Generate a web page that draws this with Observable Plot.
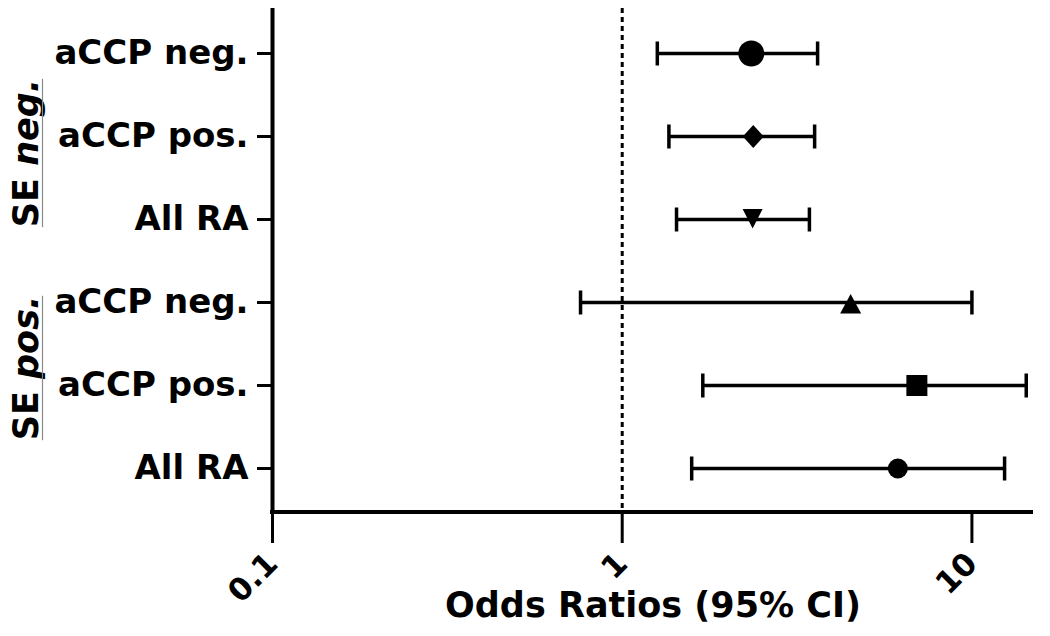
<!DOCTYPE html>
<html>
<head>
<meta charset="utf-8">
<script src="https://cdn.jsdelivr.net/npm/d3@7"></script>
<script src="https://cdn.jsdelivr.net/npm/@observablehq/plot@0.6"></script>
<style>
  body { margin: 0; background: #fff; }
  svg { display: block; }
</style>
</head>
<body>
<div id="chart"></div>
<script>
// ---- data ----
const groups = ["SE neg.", "SE neg.", "SE neg.", "SE pos.", "SE pos.", "SE pos."];
const subgroups = ["aCCP neg.", "aCCP pos.", "All RA", "aCCP neg.", "aCCP pos.", "All RA"];
const oddsRatio = [2.34, 2.37, 2.36, 4.50, 6.96, 6.14];
const ciLower = [1.26, 1.36, 1.43, 0.76, 1.70, 1.58];
const ciUpper = [3.62, 3.55, 3.43, 10.0, 14.3, 12.4];
const xTicks = [0.1, 1, 10];
const xTickLabels = ["0.1", "1", "10"];
const xTitle = "Odds Ratios (95% CI)";

const rows = subgroups.map((s, i) => ({
  key: i, group: groups[i], sub: s, or: oddsRatio[i], lo: ciLower[i], hi: ciUpper[i]
}));

// ---- styles ----
const FONT = "DejaVu Sans";
const triangleDown = {draw(ctx, size) {
  const r = Math.sqrt(size / Math.PI);
  ctx.moveTo(-r, -1.05 * r); ctx.lineTo(r, -1.05 * r); ctx.lineTo(0, 0.9 * r); ctx.closePath();
}};
const triangleUp = {draw(ctx, size) {
  const r = Math.sqrt(size / Math.PI);
  ctx.moveTo(0, -0.8 * r); ctx.lineTo(r, 1.05 * r); ctx.lineTo(-r, 1.05 * r); ctx.closePath();
}};
const diamond = {draw(ctx, size) {
  const r = Math.sqrt(size / Math.PI);
  ctx.moveTo(0, -1.1 * r); ctx.lineTo(r, 0); ctx.lineTo(0, 1.1 * r); ctx.lineTo(-r, 0); ctx.closePath();
}};
const capBar = {draw(ctx, size) {
  const r = Math.sqrt(size / Math.PI);
  ctx.moveTo(0, -r); ctx.lineTo(0, r);
}};
const markerSymbol = ["circle", diamond, triangleDown, triangleUp, "square", "circle"];
const markerR = [13, 10.5, 10, 10.5, 11.85, 10];

const measureCtx = document.createElement("canvas").getContext("2d");
function textWidth(str, style) {
  measureCtx.font = `${style} bold 35px "${FONT}"`;
  return measureCtx.measureText(str).width;
}

const groupLabelMark = (index, scales, values, dims) => {
  const g = d3.create("svg:g")
    .attr("font-family", FONT).attr("font-weight", "bold").attr("font-size", 35).attr("fill", "black");
  const center = (dims.marginTop + dims.height - dims.marginBottom) / 2;
  const uniq = Array.from(new Set(groups));
  for (const grp of uniq) {
    const ys = rows.filter(r => r.group === grp).map(r => scales.y(r.key));
    const mid = d3.mean(ys);
    const y = mid + Math.sign(center - mid) * 17;
    const [a, ...rest] = grp.split(" ");
    const b = " " + rest.join(" ");
    const len = textWidth(a, "normal") + textWidth(b, "italic");
    const t = g.append("text")
      .attr("transform", `translate(38,${y}) rotate(-90)`)
      .attr("text-anchor", "middle");
    t.append("tspan").text(a);
    t.append("tspan").attr("font-style", "italic").text(b);
    g.append("line")
      .attr("x1", 42.5).attr("x2", 42.5)
      .attr("y1", y - len / 2).attr("y2", y + len / 2)
      .attr("stroke", "#8a8a8a").attr("stroke-width", 1.2);
  }
  return g.node();
};

const bottomLine = (index, scales, values, dims) => {
  return d3.create("svg:line")
    .attr("x1", dims.marginLeft - 2).attr("x2", dims.width - dims.marginRight)
    .attr("y1", dims.height - dims.marginBottom).attr("y2", dims.height - dims.marginBottom)
    .attr("stroke", "black").attr("stroke-width", 4).node();
};

const chart = Plot.plot({
  width: 1050,
  height: 636,
  marginLeft: 272,
  marginRight: 17,
  marginTop: 8,
  marginBottom: 124,
  style: {fontFamily: FONT, color: "black", background: "white", overflow: "visible"},
  x: {type: "log", domain: [0.1, 15]},
  y: {type: "point", domain: d3.range(rows.length), padding: 0.52},
  marks: [
    Plot.ruleX([1], {stroke: "black", strokeWidth: 3, strokeDasharray: "5,4"}),
    Plot.ruleX([0.1], {stroke: "black", strokeWidth: 4}),
    bottomLine,
    Plot.axisX({
      ticks: xTicks, tickFormat: (d) => xTickLabels[xTicks.indexOf(d)], tickSize: 31, tickPadding: 15,
      tickRotate: -45, strokeWidth: 3, fontSize: 31, fontWeight: "bold", label: null
    }),
    Plot.axisY({
      tickFormat: (d) => subgroups[d], tickSize: 15, tickPadding: 9,
      strokeWidth: 3, fontSize: 34, fontWeight: "bold", label: null
    }),
    Plot.text([xTitle], {frameAnchor: "bottom", dy: 104, fontSize: 35, fontWeight: "bold", fill: "black"}),
    groupLabelMark,
    Plot.ruleY(rows, {y: "key", x1: "lo", x2: "hi", stroke: "black", strokeWidth: 3.5}),
    Plot.dot(rows, {x: "lo", y: "key", r: 12, symbol: capBar, fill: "none", stroke: "black", strokeWidth: 3.5}),
    Plot.dot(rows, {x: "hi", y: "key", r: 12, symbol: capBar, fill: "none", stroke: "black", strokeWidth: 3.5}),
    ...rows.map((d, k) => Plot.dot([d], {x: "or", y: "key", r: markerR[k], symbol: markerSymbol[k], fill: "black", stroke: "none"}))
  ]
});
document.getElementById("chart").appendChild(chart);
</script>
</body>
</html>
